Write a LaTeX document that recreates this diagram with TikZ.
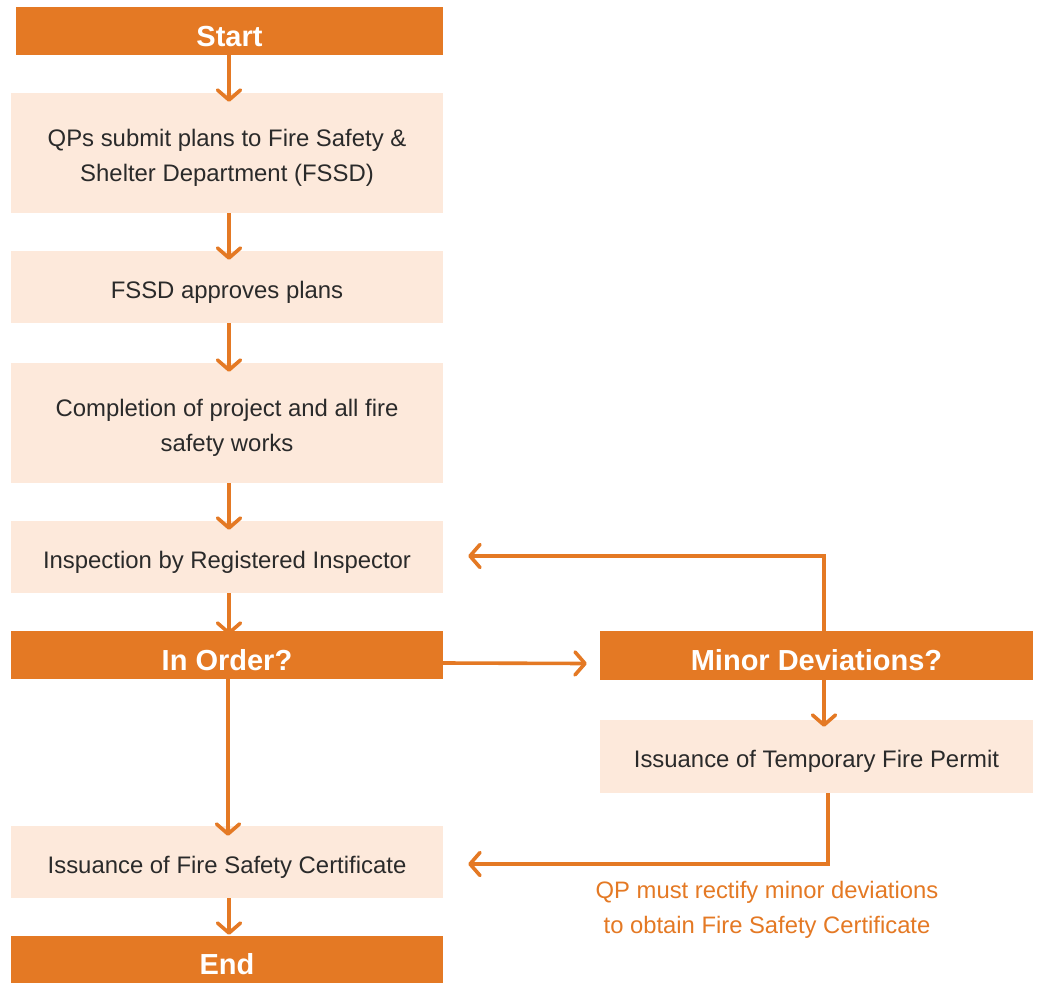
\documentclass[tikz,border=0pt]{standalone}
\usepackage{fontspec}
\setmainfont{Liberation Sans}
\usetikzlibrary{arrows.meta}
\definecolor{orng}{HTML}{E47924}
\definecolor{peach}{HTML}{FDE9DB}
\definecolor{txt}{HTML}{2A2A2A}
\newcommand{\boxtxt}[2][-4.5pt]{\raisebox{#1}[\height][\depth]{\begin{tabular}{@{}c@{}}#2\end{tabular}}}
\newcommand{\hdrtxt}[1]{\boxtxt[-8.5pt]{#1}}
\begin{document}
\begin{tikzpicture}[x=1pt,y=-1pt,
  hdr/.style={fill=orng,text=white,font=\fontsize{29}{34}\selectfont\bfseries,inner sep=0pt,minimum width=432pt,minimum height=48pt,align=center},
  stepbox/.style={fill=peach,text=txt,font=\fontsize{23.9}{34.5}\selectfont,inner sep=0pt,minimum width=432pt,align=center},
  arr/.style={draw=orng,line width=3.6pt,-{Straight Barb[length=10pt,width=23pt,round]}},
  note/.style={text=orng,font=\fontsize{23.8}{34.5}\selectfont,align=center,inner sep=0pt}]
\useasboundingbox (0,0) rectangle (1037,983);
\node[hdr,minimum width=427pt] (start) at (229.5,31) {\hdrtxt{Start}};
\node[stepbox,minimum height=120pt] (b1) at (227,153) {\boxtxt[-4pt]{QPs submit plans to Fire Safety \&\\Shelter Department (FSSD)}};
\node[stepbox,minimum height=72pt] (b2) at (227,287) {\boxtxt{FSSD approves plans}};
\node[stepbox,minimum height=120pt] (b3) at (227,423) {\boxtxt[-4pt]{Completion of project and all fire\\safety works}};
\node[stepbox,minimum height=72pt] (b4) at (227,557) {\boxtxt{Inspection by Registered Inspector}};
\node[hdr] (inorder) at (227,655) {\hdrtxt{In Order?}};
\node[hdr,minimum width=433pt,minimum height=49pt] (minor) at (816.5,655.5) {\hdrtxt{Minor Deviations?}};
\node[stepbox,minimum width=433pt,minimum height=73pt] (temp) at (816.5,756.5) {\boxtxt{Issuance of Temporary Fire Permit}};
\node[stepbox,minimum height=72pt] (cert) at (227,862) {\boxtxt{Issuance of Fire Safety Certificate}};
\node[hdr,minimum height=47pt] (end) at (227,959.5) {\hdrtxt{End}};
\node[note] (nt) at (767,910) {QP must rectify minor deviations\\to obtain Fire Safety Certificate};
\draw[arr] ([xshift=-0.5pt]start.south) -- ([xshift=2pt,yshift=-9pt]b1.north);
\draw[arr] ([xshift=2pt]b1.south) -- ([xshift=2pt,yshift=-9pt]b2.north);
\draw[arr] ([xshift=2pt]b2.south) -- ([xshift=2pt,yshift=-9pt]b3.north);
\draw[arr] ([xshift=2pt]b3.south) -- ([xshift=2pt,yshift=-9pt]b4.north);
\draw[arr] ([xshift=2pt]b4.south) -- ([xshift=2pt,yshift=-4pt]inorder.north);
\draw[arr] ([xshift=1pt]inorder.south) -- ([xshift=1pt,yshift=-10pt]cert.north);
\draw[arr] ([xshift=2pt]cert.south) -- ([xshift=2pt,yshift=1pt]end.north);
\draw[arr] ([yshift=-8pt]inorder.east) -- ([xshift=-13pt,yshift=-8pt]minor.west);
\draw[arr] ([xshift=7.5pt]minor.north) |- ([xshift=25pt,yshift=1pt]b4.east);
\draw[arr] ([xshift=7.5pt]minor.south) -- ([xshift=7.5pt,yshift=-7pt]temp.north);
\draw[arr] ([xshift=11.5pt]temp.south) |- ([xshift=25pt,yshift=-2pt]cert.east);
\end{tikzpicture}
\end{document}
